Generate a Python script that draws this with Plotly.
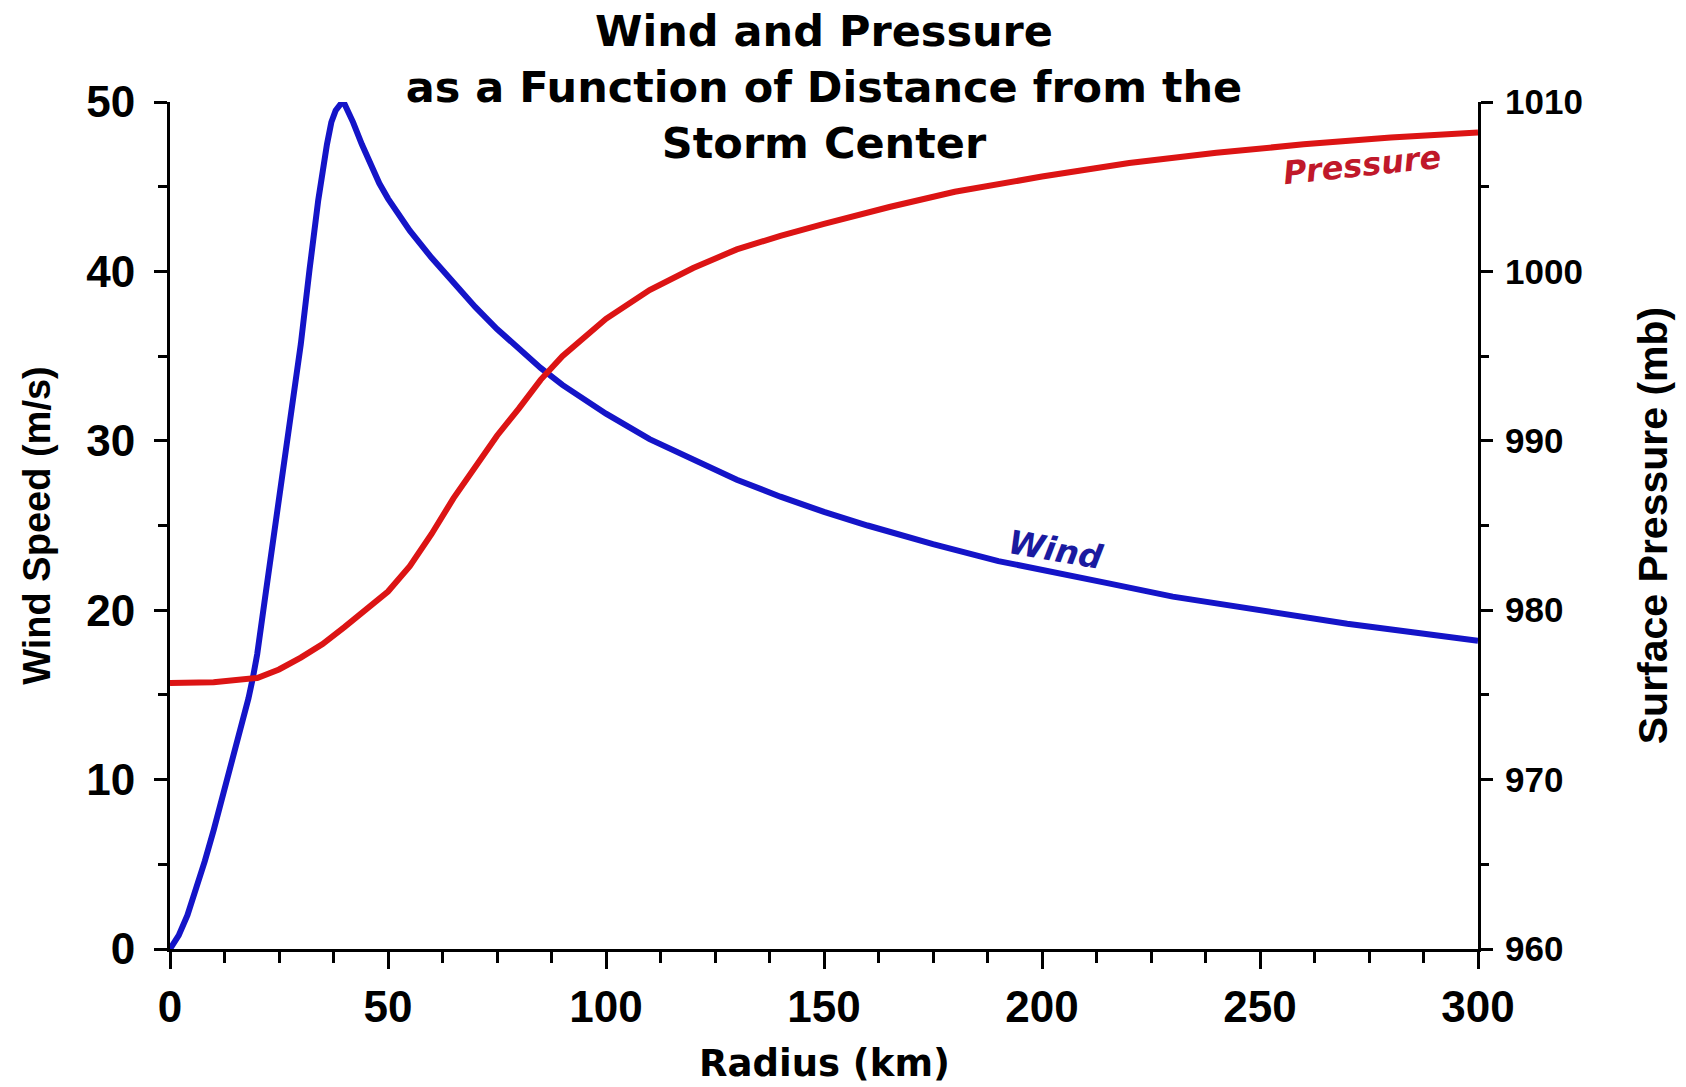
import plotly.graph_objects as go

# Radius (km)
radius_wind = [0, 2, 4, 6, 8, 10, 12, 14, 16, 18, 19, 20, 22, 24, 26, 28, 30, 32, 34, 36, 37, 38, 39,
               39.5, 40, 41, 42, 44, 46, 48, 50, 55, 60, 65, 70, 75, 80, 85, 90, 100, 110, 120, 130,
               140, 150, 160, 175, 190, 200, 215, 230, 250, 270, 285, 300]
wind_speed = [0.0, 0.8, 2.0, 3.5, 5.2, 7.0, 8.9, 10.8, 12.7, 14.8, 16.0, 17.4, 21.1, 24.8, 28.5,
              32.1, 35.7, 40.1, 44.2, 47.5, 48.8, 49.5, 49.95, 50.0, 49.9, 49.4, 48.8, 47.5, 46.3,
              45.2, 44.3, 42.4, 40.8, 39.3, 37.9, 36.6, 35.4, 34.3, 33.3, 31.6, 30.1, 28.9, 27.7,
              26.7, 25.8, 25.0, 23.9, 22.9, 22.4, 21.6, 20.8, 20.0, 19.2, 18.7, 18.2]

radius_pres = [0, 10, 20, 25, 30, 35, 40, 45, 50, 55, 60, 65, 70, 75, 80, 85, 90, 100, 110, 120,
               130, 140, 150, 165, 180, 200, 220, 240, 260, 280, 300]
pressure = [975.7, 975.75, 976.0, 976.5, 977.2, 978.0, 979.0, 980.0, 981.1, 982.6, 984.5, 986.6,
            988.5, 990.3, 991.9, 993.6, 995.0, 997.2, 998.9, 1000.2, 1001.3, 1002.1, 1002.8,
            1003.8, 1004.7, 1005.6, 1006.4, 1007.0, 1007.5, 1007.9, 1008.2]

x_ticks = [0, 50, 100, 150, 200, 250, 300]
wind_ticks = [0, 10, 20, 30, 40, 50]
pres_ticks = [960, 970, 980, 990, 1000, 1010]

BLUE = "#1414c8"
RED = "#dc1414"
FONT = "Liberation Sans"

fig = go.Figure()
fig.add_trace(go.Scatter(x=radius_wind, y=wind_speed, mode="lines", name="Wind",
                         line=dict(color=BLUE, width=6), cliponaxis=False, yaxis="y"))
fig.add_trace(go.Scatter(x=radius_pres, y=pressure, mode="lines", name="Pressure",
                         line=dict(color=RED, width=6), cliponaxis=False, yaxis="y2"))

tickfont = dict(family=FONT, size=44, color="black", weight="bold")
tickfont_r = dict(family=FONT, size=35, color="black", weight="bold")
titlefont = dict(family=FONT, size=38, color="black", weight="bold")

fig.update_layout(
    width=1686, height=1087,
    paper_bgcolor="white", plot_bgcolor="white",
    showlegend=False,
    margin=dict(l=170, r=208, t=102, b=138, autoexpand=False),
    title=dict(text="Wind and Pressure<br>as a Function of Distance from the<br>Storm Center",
               font=dict(family="DejaVu Sans", size=43, color="black", weight="bold"),
               x=0.5, xref="paper", xanchor="center",
               y=1 - 46 / 1087, yref="container", yanchor="middle"),
    xaxis=dict(range=[0, 300], tickvals=x_ticks, ticks="outside", ticklen=17, tickwidth=3,
               tickcolor="black", showline=True, linewidth=3, linecolor="black",
               showgrid=False, zeroline=False, tickfont=tickfont, automargin=False,
               minor=dict(dtick=12.5, ticks="outside", ticklen=11, tickwidth=2.5, tickcolor="black")),
    yaxis=dict(range=[0, 50], tickvals=wind_ticks, ticks="outside", ticklen=13, tickwidth=3,
               tickcolor="black", showline=True, linewidth=3, linecolor="black",
               showgrid=False, zeroline=False, tickfont=tickfont, ticklabelstandoff=10,
               automargin=False,
               minor=dict(dtick=5, ticks="outside", ticklen=9, tickwidth=2.5, tickcolor="black"),
               title=dict(text="Wind Speed (m/s)", font=titlefont, standoff=24)),
    yaxis2=dict(range=[960, 1010], tickvals=pres_ticks, overlaying="y", side="right",
                ticks="outside", ticklen=12, tickwidth=3, tickcolor="black",
                showline=True, linewidth=3, linecolor="black", automargin=False,
                showgrid=False, zeroline=False, tickfont=tickfont_r, ticklabelstandoff=5,
                minor=dict(dtick=5, ticks="outside", ticklen=8, tickwidth=2.5, tickcolor="black"),
                title=dict(text="Surface Pressure (mb)",
                           font=dict(family=FONT, size=41, color="black", weight="bold"),
                           standoff=57)),
)

# x-axis title (placed as an annotation so it can sit lower than the margin allows)
fig.add_annotation(x=0.5, y=0, xref="paper", yref="paper", text="Radius (km)",
                   showarrow=False, xanchor="center", yanchor="middle", yshift=-114,
                   font=dict(family="DejaVu Sans", size=37, color="black", weight="bold"))

fig.add_annotation(x=203, y=23.6, xref="x", yref="y", text="<b><i>Wind</i></b>",
                   showarrow=False, textangle=10,
                   font=dict(family="DejaVu Sans", size=33, color="#1a1aa0"))
fig.add_annotation(x=273.5, y=1006.3, xref="x", yref="y2", text="<b><i>Pressure</i></b>",
                   showarrow=False, textangle=-6,
                   font=dict(family="DejaVu Sans", size=32, color="#c0182a"))

fig.write_html("out.html", config={"displayModeBar": False},
               post_script="document.body.style.margin='0';document.body.style.overflow='hidden';")
